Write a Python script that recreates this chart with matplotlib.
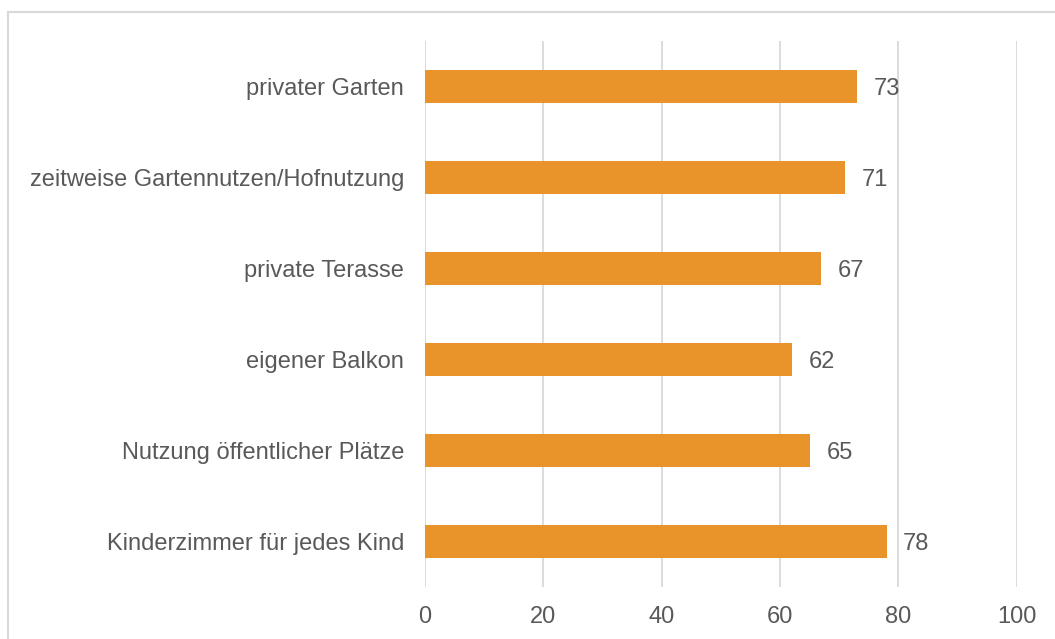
import matplotlib.pyplot as plt
from matplotlib.lines import Line2D

# data (top to bottom as shown)
categories = [
    "privater Garten",
    "zeitweise Gartennutzen/Hofnutzung",
    "private Terasse",
    "eigener Balkon",
    "Nutzung öffentlicher Plätze",
    "Kinderzimmer für jedes Kind",
]
values = [73, 71, 67, 62, 65, 78]
x_ticks = [0, 20, 40, 60, 80, 100]

bar_color = "#E8942A"
grid_color = "#D9D9D9"
text_color = "#595959"

plt.rcParams['font.family'] = ['Liberation Sans', 'DejaVu Sans']

fig = plt.figure(figsize=(10.55, 6.39), dpi=100)
ax = fig.add_axes([0.4028, 0.0814, 0.5609, 0.8545])

# bottom category first on the y axis
cats = categories[::-1]
vals = values[::-1]
pos = list(range(len(cats)))

ax.set_axisbelow(True)
ax.grid(axis='x', color=grid_color, linewidth=1.3)
ax.barh(pos, vals, height=0.36, color=bar_color)

for p, v in zip(pos, vals):
    ax.annotate(f"{v}", (v, p), xytext=(12, 0), textcoords='offset points',
                va='center_baseline', ha='left', fontsize=17, color=text_color)

ax.set_xlim(0, 100)
ax.set_ylim(-0.5, len(cats) - 0.5)
ax.set_xticks(x_ticks)
ax.set_yticks(pos)
ax.set_yticklabels(cats)
ax.tick_params(axis='both', length=0, labelsize=17, labelcolor=text_color)
ax.tick_params(axis='x', pad=14)
ax.tick_params(axis='y', pad=15)
for s in ax.spines.values():
    s.set_visible(False)

# chart frame (cropped at right and bottom)
fy = 1 - 11.5 / 639
fx = 7.5 / 1055
fig.add_artist(Line2D([fx, 1.0], [fy, fy], color=grid_color, linewidth=1.5))
fig.add_artist(Line2D([fx, fx], [0.0, fy], color=grid_color, linewidth=1.5))

fig.savefig("out.png", dpi=100)
